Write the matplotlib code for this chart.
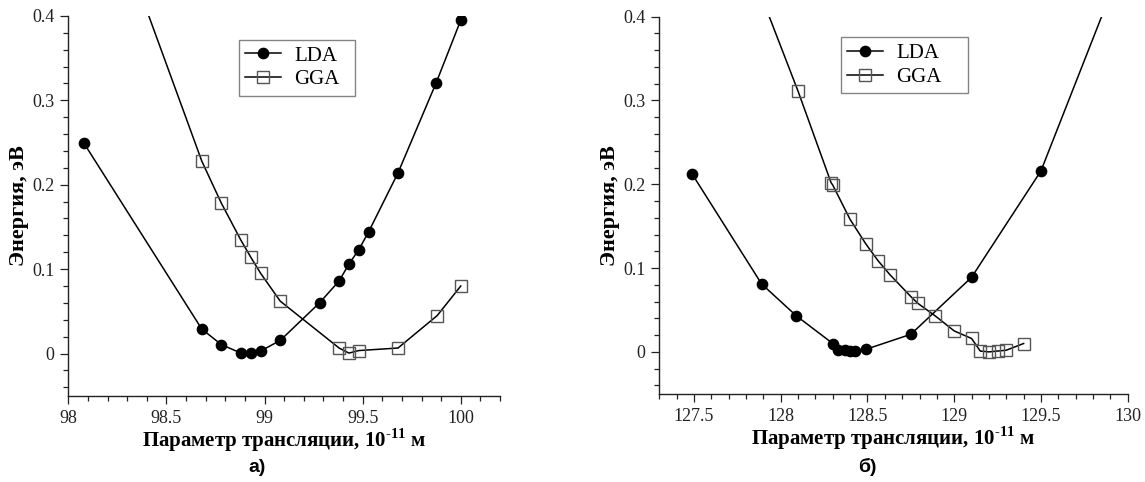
import matplotlib
matplotlib.use('Agg')
import matplotlib.pyplot as plt
from matplotlib.ticker import MultipleLocator, FuncFormatter

plt.rcParams['font.family'] = ['Liberation Serif', 'DejaVu Serif']
plt.rcParams['mathtext.fontset'] = 'custom'
plt.rcParams['mathtext.rm'] = 'Liberation Serif:bold'
plt.rcParams['mathtext.bf'] = 'Liberation Serif:bold'

# panel a)
lda_a_x = [98.08, 98.68, 98.78, 98.88, 98.93, 98.98, 99.08, 99.28, 99.38, 99.43, 99.48, 99.53, 99.68, 99.875, 100.0]
lda_a_y = [0.249, 0.029, 0.0105, 0.0005, 0.0005, 0.003, 0.0155, 0.060, 0.086, 0.106, 0.123, 0.144, 0.214, 0.321, 0.395]
gga_a_x = [98.30, 98.68, 98.78, 98.88, 98.93, 98.98, 99.08, 99.38, 99.43, 99.48, 99.68, 99.88, 100.0]
gga_a_y = [0.47, 0.228, 0.178, 0.134, 0.114, 0.095, 0.062, 0.0065, 0.0005, 0.0035, 0.0065, 0.045, 0.080]

# panel б)
lda_b_x = [127.49, 127.89, 128.09, 128.30, 128.33, 128.37, 128.40, 128.43, 128.49, 128.75, 129.10, 129.50, 129.95]
lda_b_y = [0.212, 0.081, 0.043, 0.010, 0.002, 0.002, 0.001, 0.001, 0.003, 0.021, 0.089, 0.216, 0.453]
gga_b_x = [127.85, 128.10, 128.29, 128.30, 128.40, 128.49, 128.56, 128.63, 128.75, 128.79, 128.89, 129.00,
           129.10, 129.15, 129.20, 129.25, 129.30, 129.40]
gga_b_y = [0.445, 0.311, 0.202, 0.199, 0.158, 0.129, 0.109, 0.092, 0.066, 0.058, 0.043, 0.025,
           0.016, 0.001, 0.000, 0.001, 0.002, 0.010]

series_names = ['LDA', 'GGA']
xlabel = r'Параметр трансляции, 10$^{\text{-11}}$ м'
ylabel = 'Энергия, эВ'

fmt = FuncFormatter(lambda v, p: '%g' % round(v, 3))


def draw(ax, lx, ly, gx, gy, xlim, leg_box):
    ax.plot(lx, ly, color='black', lw=1.1, marker='o', ms=7.4,
            mfc='black', mec='black', label=series_names[0])
    ax.plot(gx, gy, color='black', lw=1.1, marker='s', ms=8.2,
            mfc='none', mec='#555555', mew=1.0, label=series_names[1])
    ax.set_xlim(*xlim)
    ax.set_ylim(-0.05, 0.4)
    ax.xaxis.set_major_locator(MultipleLocator(0.5))
    ax.xaxis.set_minor_locator(MultipleLocator(0.1))
    ax.yaxis.set_major_locator(MultipleLocator(0.1))
    ax.yaxis.set_minor_locator(MultipleLocator(0.02))
    ax.xaxis.set_major_formatter(fmt)
    ax.yaxis.set_major_formatter(fmt)
    for s in ['top', 'right']:
        ax.spines[s].set_visible(False)
    for s in ['left', 'bottom']:
        ax.spines[s].set_linewidth(1.0)
        ax.spines[s].set_color('#222222')
    ax.tick_params(which='major', length=6, width=0.9, color='#222222',
                   labelsize=13, labelcolor='#222222', pad=4)
    ax.tick_params(which='minor', length=3.5, width=0.9, color='#222222')
    ax.set_xlabel(xlabel, fontsize=15, fontweight='bold', labelpad=0)
    ax.set_ylabel(ylabel, fontsize=16, fontweight='bold', labelpad=2)
    leg = ax.legend(loc='upper left', bbox_to_anchor=leg_box, mode='expand', fontsize=15,
                    frameon=True, fancybox=False, edgecolor='#666666',
                    handlelength=1.7, borderpad=0.3, labelspacing=0.2,
                    handletextpad=0.65, borderaxespad=0)
    leg.get_frame().set_linewidth(1.0)


fig = plt.figure(figsize=(11.45, 4.82), dpi=100)
ax1 = fig.add_axes([0.0597, 0.179, 0.377, 0.788])
ax2 = fig.add_axes([0.5758, 0.183, 0.4091, 0.7824])

draw(ax1, lda_a_x, lda_a_y, gga_a_x, gga_a_y, (98, 100.2), (0.395, 0.937, 0.269, 0.0))
draw(ax2, lda_b_x, lda_b_y, gga_b_x, gga_b_y, (127.3, 130), (0.388, 0.945, 0.271, 0.0))

fig.text(257 / 1145, 1 - 467 / 482, 'а)', family='Liberation Sans', fontweight='bold',
         fontsize=14, ha='center', va='center')
fig.text(867 / 1145, 1 - 467 / 482, 'б)', family='Liberation Sans', fontweight='bold',
         fontsize=14, ha='center', va='center')

fig.savefig('out.png', dpi=100)
